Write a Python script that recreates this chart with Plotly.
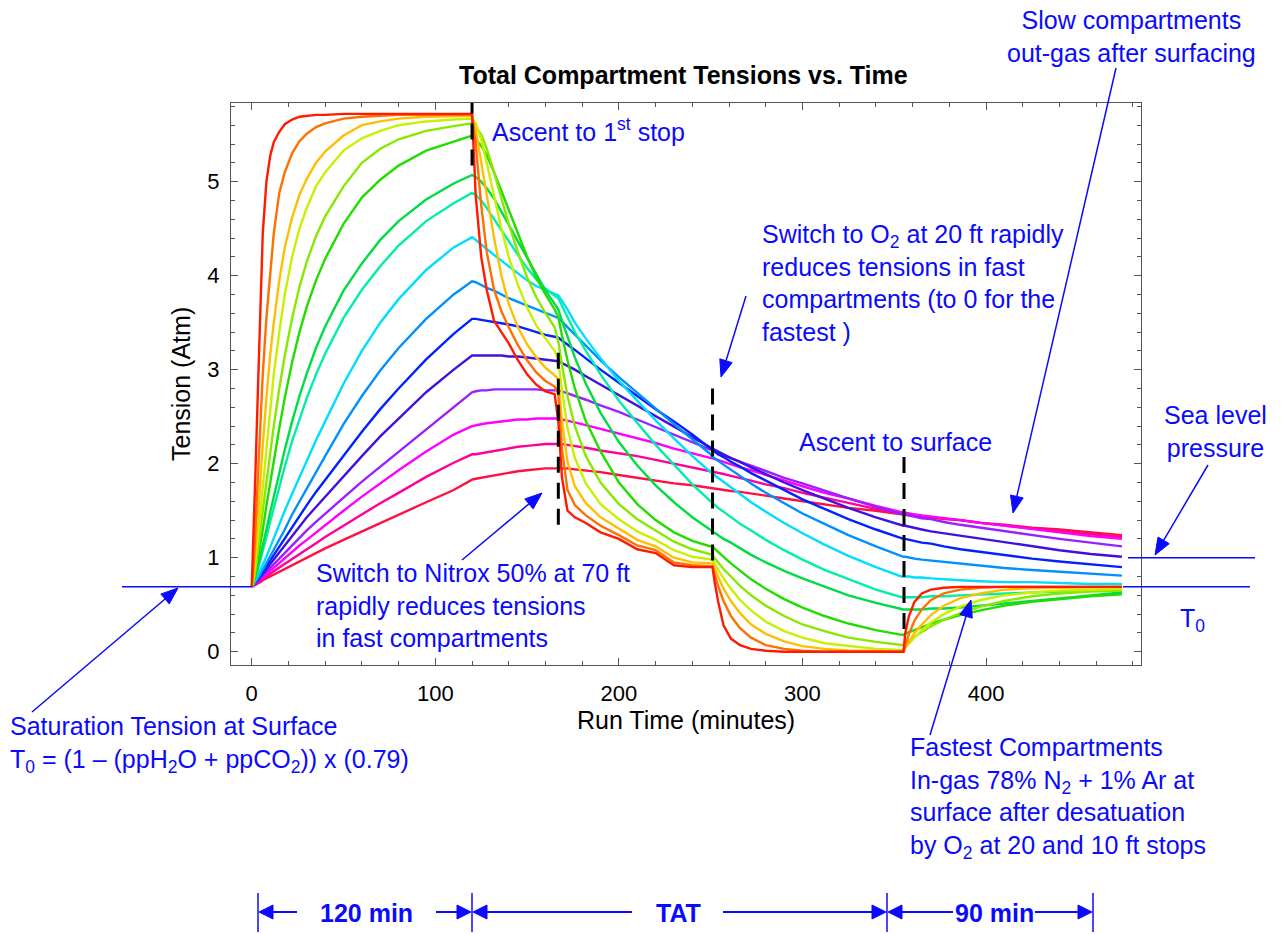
import math
import plotly.graph_objects as go

# ---------------------------------------------------------------- data
# Run time (minutes) shared by all compartments
run_time = [0, 1, 2, 3, 4, 5, 6, 8, 10, 12, 15, 18, 22, 26, 30, 35, 40, 50, 60, 70, 80, 95, 110, 120,
            122, 125, 128, 132, 136, 140, 145, 150, 155, 160, 165,
            167, 169, 172, 176, 182, 190, 200, 210, 220, 230, 240, 250,
            251, 252, 254, 257, 261, 266, 272, 280, 290, 300, 312, 325, 340, 354,
            355, 356, 358, 361, 365, 370, 377, 386, 397, 410, 425, 440, 457, 474]

# Total tension (Atm) of each compartment, fastest first
c01 = [0.69, 1.2, 1.9, 2.55, 3.2, 3.9, 4.45, 5.0, 5.27, 5.42, 5.53, 5.61, 5.66, 5.69, 5.70, 5.71, 5.71, 5.72, 5.72, 5.72, 5.72, 5.72, 5.72, 5.72,
       4.85, 4.2, 3.85, 3.52, 3.40, 3.28, 3.10, 2.95, 2.84, 2.77, 2.74,
       2.45, 1.85, 1.50, 1.43, 1.37, 1.27, 1.20, 1.09, 1.05, 0.92, 0.90, 0.90,
       0.90, 0.76, 0.54, 0.28, 0.14, 0.07, 0.03, 0.01, 0, 0, 0, 0, 0, 0,
       0, 0.2, 0.38, 0.53, 0.62, 0.66, 0.68, 0.69, 0.69, 0.69, 0.69, 0.69, 0.69, 0.69]
c02 = [0.69, 0.9, 1.3, 1.75, 2.2, 2.6, 2.95, 3.55, 4.05, 4.45, 4.88, 5.1, 5.3, 5.43, 5.51, 5.58, 5.62, 5.67, 5.69, 5.70, 5.71, 5.71, 5.71, 5.71,
       5.4, 4.75, 4.25, 3.85, 3.62, 3.45, 3.26, 3.1, 2.97, 2.88, 2.82,
       2.75, 2.15, 1.72, 1.56, 1.45, 1.34, 1.24, 1.13, 1.08, 0.95, 0.92, 0.91,
       0.91, 0.83, 0.70, 0.54, 0.38, 0.25, 0.15, 0.07, 0.03, 0.01, 0, 0, 0, 0,
       0, 0.07, 0.19, 0.33, 0.45, 0.55, 0.62, 0.66, 0.68, 0.69, 0.69, 0.69, 0.69, 0.69]
c03 = [0.69, 0.82, 1.05, 1.35, 1.65, 1.95, 2.2, 2.7, 3.15, 3.5, 3.95, 4.3, 4.62, 4.86, 5.03, 5.2, 5.32, 5.49, 5.6, 5.64, 5.67, 5.69, 5.70, 5.70,
       5.55, 5.2, 4.85, 4.4, 4.0, 3.7, 3.45, 3.27, 3.13, 3.02, 2.94,
       2.9, 2.45, 2.02, 1.76, 1.58, 1.43, 1.31, 1.19, 1.12, 1.0, 0.95, 0.94,
       0.94, 0.89, 0.80, 0.67, 0.54, 0.41, 0.29, 0.19, 0.11, 0.06, 0.03, 0.015, 0.01, 0.0,
       0.0, 0.04, 0.11, 0.20, 0.29, 0.39, 0.49, 0.57, 0.62, 0.66, 0.675, 0.68, 0.685, 0.69]
c04 = [0.69, 0.78, 0.95, 1.15, 1.4, 1.6, 1.8, 2.2, 2.6, 2.95, 3.4, 3.8, 4.2, 4.5, 4.72, 4.95, 5.1, 5.33, 5.46, 5.54, 5.6, 5.64, 5.66, 5.67,
       5.62, 5.45, 5.2, 4.85, 4.5, 4.2, 3.9, 3.66, 3.47, 3.33, 3.2,
       3.1, 2.78, 2.38, 2.06, 1.79, 1.57, 1.41, 1.28, 1.19, 1.08, 1.01, 0.98,
       0.98, 0.94, 0.87, 0.78, 0.67, 0.55, 0.44, 0.32, 0.22, 0.15, 0.09, 0.06, 0.03, 0.02,
       0.02, 0.045, 0.09, 0.15, 0.23, 0.31, 0.40, 0.48, 0.55, 0.60, 0.63, 0.65, 0.66, 0.67]
c05 = [0.69, 0.76, 0.88, 1.02, 1.18, 1.34, 1.5, 1.82, 2.12, 2.4, 2.8, 3.15, 3.55, 3.88, 4.15, 4.42, 4.63, 4.95, 5.2, 5.35, 5.45, 5.54, 5.59, 5.62,
       5.58, 5.5, 5.35, 5.1, 4.82, 4.55, 4.25, 3.98, 3.77, 3.6, 3.45,
       3.3, 3.05, 2.72, 2.4, 2.08, 1.8, 1.57, 1.41, 1.29, 1.17, 1.09, 1.03,
       1.03, 1.0, 0.95, 0.88, 0.80, 0.70, 0.60, 0.49, 0.38, 0.29, 0.22, 0.15, 0.105, 0.073,
       0.07, 0.09, 0.12, 0.16, 0.21, 0.27, 0.34, 0.41, 0.48, 0.54, 0.59, 0.62, 0.64, 0.65]
c06 = [0.69, 0.74, 0.83, 0.94, 1.06, 1.18, 1.3, 1.55, 1.8, 2.03, 2.38, 2.7, 3.08, 3.4, 3.67, 3.95, 4.18, 4.55, 4.83, 5.02, 5.17, 5.33, 5.43, 5.49,
       5.45, 5.38, 5.28, 5.1, 4.9, 4.7, 4.45, 4.2, 3.98, 3.8, 3.64,
       3.56, 3.36, 3.10, 2.80, 2.45, 2.13, 1.80, 1.57, 1.40, 1.27, 1.18, 1.12,
       1.12, 1.10, 1.06, 1.01, 0.94, 0.86, 0.77, 0.67, 0.56, 0.47, 0.38, 0.30, 0.23, 0.18,
       0.18, 0.19, 0.21, 0.23, 0.26, 0.30, 0.34, 0.39, 0.44, 0.49, 0.53, 0.56, 0.59, 0.61]
c07 = [0.69, 0.73, 0.79, 0.87, 0.95, 1.03, 1.12, 1.3, 1.48, 1.65, 1.9, 2.15, 2.45, 2.72, 2.96, 3.23, 3.46, 3.84, 4.13, 4.38, 4.58, 4.81, 4.98, 5.07,
       5.05, 5.0, 4.93, 4.82, 4.68, 4.54, 4.36, 4.18, 4.0, 3.84, 3.7,
       3.64, 3.52, 3.35, 3.13, 2.85, 2.54, 2.23, 1.98, 1.77, 1.59, 1.43, 1.29,
       1.28, 1.27, 1.24, 1.20, 1.16, 1.10, 1.03, 0.95, 0.86, 0.78, 0.69, 0.60, 0.52, 0.45,
       0.45, 0.45, 0.45, 0.45, 0.45, 0.46, 0.46, 0.47, 0.49, 0.51, 0.54, 0.57, 0.60, 0.63]
c08 = [0.69, 0.72, 0.78, 0.85, 0.92, 0.99, 1.07, 1.22, 1.38, 1.53, 1.75, 1.97, 2.24, 2.48, 2.7, 2.95, 3.17, 3.55, 3.85, 4.1, 4.32, 4.58, 4.77, 4.88,
       4.86, 4.8, 4.72, 4.6, 4.48, 4.36, 4.22, 4.08, 3.96, 3.86, 3.79,
       3.76, 3.68, 3.56, 3.4, 3.2, 2.95, 2.67, 2.43, 2.2, 1.99, 1.78, 1.6,
       1.58, 1.56, 1.53, 1.49, 1.43, 1.36, 1.29, 1.19, 1.08, 0.98, 0.87, 0.77, 0.66, 0.58,
       0.58, 0.58, 0.58, 0.58, 0.58, 0.59, 0.59, 0.60, 0.61, 0.62, 0.63, 0.64, 0.65, 0.66]
c09 = [0.69, 0.72, 0.76, 0.80, 0.84, 0.88, 0.92, 1.01, 1.11, 1.21, 1.36, 1.50, 1.68, 1.86, 2.03, 2.25, 2.45, 2.85, 3.2, 3.5, 3.75, 4.06, 4.3, 4.41,
       4.38, 4.33, 4.28, 4.22, 4.16, 4.1, 4.02, 3.95, 3.89, 3.85, 3.81,
       3.79, 3.73, 3.64, 3.5, 3.33, 3.12, 2.88, 2.67, 2.46, 2.27, 2.08, 1.91,
       1.90, 1.88, 1.85, 1.81, 1.75, 1.68, 1.59, 1.49, 1.37, 1.26, 1.14, 1.02, 0.90, 0.80,
       0.80, 0.80, 0.80, 0.79, 0.79, 0.78, 0.77, 0.76, 0.75, 0.74, 0.74, 0.73, 0.72, 0.72]
c10 = [0.69, 0.715, 0.74, 0.77, 0.80, 0.835, 0.87, 0.94, 1.01, 1.08, 1.19, 1.30, 1.46, 1.60, 1.74, 1.91, 2.08, 2.42, 2.72, 2.99, 3.23, 3.54, 3.80, 3.94,
       3.93, 3.9, 3.87, 3.84, 3.8, 3.76, 3.72, 3.68, 3.64, 3.6, 3.56,
       3.55, 3.51, 3.45, 3.37, 3.25, 3.1, 2.92, 2.75, 2.58, 2.42, 2.26, 2.1,
       2.07, 2.06, 2.03, 1.99, 1.93, 1.87, 1.79, 1.69, 1.58, 1.47, 1.36, 1.24, 1.12, 1.01,
       1.01, 1.01, 1.00, 0.99, 0.98, 0.97, 0.96, 0.94, 0.92, 0.89, 0.87, 0.85, 0.83, 0.81]
c11 = [0.69, 0.71, 0.735, 0.76, 0.79, 0.82, 0.85, 0.91, 0.97, 1.03, 1.12, 1.21, 1.33, 1.45, 1.56, 1.70, 1.83, 2.09, 2.34, 2.58, 2.80, 3.11, 3.38, 3.54,
       3.54, 3.53, 3.52, 3.51, 3.5, 3.48, 3.46, 3.43, 3.4, 3.37, 3.35,
       3.34, 3.31, 3.27, 3.21, 3.12, 3.0, 2.86, 2.72, 2.58, 2.45, 2.31, 2.16,
       2.14, 2.13, 2.10, 2.07, 2.02, 1.97, 1.90, 1.82, 1.72, 1.62, 1.52, 1.41, 1.30, 1.20,
       1.20, 1.20, 1.19, 1.18, 1.16, 1.15, 1.12, 1.09, 1.06, 1.03, 0.99, 0.96, 0.93, 0.90]
c12 = [0.69, 0.71, 0.73, 0.755, 0.78, 0.805, 0.83, 0.88, 0.93, 0.98, 1.06, 1.13, 1.23, 1.33, 1.43, 1.54, 1.65, 1.87, 2.08, 2.29, 2.48, 2.76, 3.0, 3.15,
       3.15, 3.15, 3.15, 3.15, 3.15, 3.14, 3.14, 3.13, 3.12, 3.11, 3.1,
       3.09, 3.07, 3.04, 3.0, 2.93, 2.84, 2.73, 2.62, 2.5, 2.39, 2.28, 2.17,
       2.16, 2.15, 2.13, 2.10, 2.06, 2.02, 1.96, 1.89, 1.80, 1.72, 1.63, 1.53, 1.43, 1.34,
       1.34, 1.34, 1.33, 1.32, 1.30, 1.28, 1.26, 1.23, 1.20, 1.16, 1.12, 1.08, 1.04, 1.01]
c13 = [0.69, 0.71, 0.73, 0.75, 0.77, 0.79, 0.81, 0.855, 0.90, 0.94, 1.0, 1.06, 1.14, 1.22, 1.29, 1.38, 1.47, 1.64, 1.81, 1.97, 2.13, 2.37, 2.61, 2.76,
       2.77, 2.78, 2.78, 2.79, 2.79, 2.79, 2.79, 2.79, 2.79, 2.78, 2.78,
       2.78, 2.77, 2.75, 2.72, 2.68, 2.62, 2.55, 2.47, 2.39, 2.31, 2.23, 2.15,
       2.14, 2.13, 2.12, 2.09, 2.06, 2.02, 1.98, 1.92, 1.85, 1.79, 1.71, 1.63, 1.54, 1.46,
       1.46, 1.46, 1.45, 1.44, 1.42, 1.41, 1.38, 1.35, 1.32, 1.28, 1.24, 1.20, 1.16, 1.12]
c14 = [0.69, 0.705, 0.72, 0.74, 0.755, 0.77, 0.79, 0.825, 0.86, 0.895, 0.945, 0.995, 1.06, 1.13, 1.19, 1.27, 1.35, 1.50, 1.65, 1.79, 1.93, 2.13, 2.31, 2.40,
       2.41, 2.42, 2.43, 2.44, 2.45, 2.46, 2.47, 2.47, 2.48, 2.48, 2.48,
       2.48, 2.47, 2.46, 2.44, 2.41, 2.37, 2.32, 2.27, 2.22, 2.16, 2.11, 2.06,
       2.06, 2.05, 2.04, 2.02, 1.99, 1.96, 1.93, 1.88, 1.82, 1.76, 1.69, 1.63, 1.55, 1.48,
       1.48, 1.48, 1.47, 1.46, 1.45, 1.44, 1.42, 1.40, 1.37, 1.34, 1.30, 1.27, 1.23, 1.20]
c15 = [0.69, 0.70, 0.715, 0.73, 0.745, 0.76, 0.775, 0.80, 0.83, 0.855, 0.895, 0.935, 0.99, 1.04, 1.09, 1.155, 1.22, 1.34, 1.46, 1.58, 1.69, 1.86, 2.01, 2.10,
       2.1, 2.11, 2.12, 2.14, 2.15, 2.16, 2.18, 2.19, 2.2, 2.21, 2.21,
       2.21, 2.21, 2.2, 2.19, 2.17, 2.14, 2.11, 2.08, 2.04, 2.0, 1.96, 1.92,
       1.92, 1.91, 1.90, 1.89, 1.87, 1.85, 1.82, 1.78, 1.74, 1.69, 1.64, 1.59, 1.52, 1.47,
       1.47, 1.47, 1.46, 1.46, 1.44, 1.43, 1.42, 1.40, 1.37, 1.34, 1.31, 1.28, 1.25, 1.22]
c16 = [0.69, 0.70, 0.71, 0.72, 0.73, 0.745, 0.76, 0.78, 0.80, 0.82, 0.85, 0.88, 0.92, 0.96, 1.0, 1.05, 1.10, 1.19, 1.28, 1.37, 1.46, 1.59, 1.72, 1.83,
       1.84, 1.85, 1.86, 1.88, 1.89, 1.9, 1.92, 1.93, 1.94, 1.95, 1.95,
       1.95, 1.95, 1.95, 1.94, 1.93, 1.91, 1.88, 1.85, 1.82, 1.79, 1.77, 1.74,
       1.74, 1.74, 1.73, 1.72, 1.71, 1.70, 1.68, 1.66, 1.63, 1.60, 1.57, 1.53, 1.50, 1.46,
       1.46, 1.46, 1.45, 1.45, 1.44, 1.43, 1.41, 1.40, 1.37, 1.35, 1.32, 1.30, 1.27, 1.24]

compartments = [c01, c02, c03, c04, c05, c06, c07, c08, c09, c10, c11, c12, c13, c14, c15, c16]
assert all(len(c) == len(run_time) for c in compartments)

T0 = 0.69          # saturation tension at surface
SEA_LEVEL = 1.0    # sea level pressure

x_ticks = [0, 100, 200, 300, 400]
y_ticks = [0, 1, 2, 3, 4, 5]

# ---------------------------------------------------------------- style
colors = ['#ff1a00', '#ff7000', '#ffbf00', '#c8f000', '#88e800', '#22dd00', '#00dd44', '#00eeaa',
          '#00ddff', '#0090ff', '#0022ff', '#4010e0', '#9920ff', '#ff00ff', '#ff0099', '#ff1040']
BLUE = '#0a0aff'
FONT = 'Arial, Liberation Sans, sans-serif'

W, H = 1281, 934
ML, MR, MT, MB = 231, 140, 103, 269
PW, PH = W - ML - MR, H - MT - MB


def px(x):
    return (x - ML) / PW


def py(y):
    return (H - MB - y) / PH


fig = go.Figure()
for vals, col in reversed(list(zip(compartments, colors))):
    fig.add_trace(go.Scatter(x=run_time, y=vals, mode='lines',
                             line=dict(color=col, width=2.4), hoverinfo='skip', showlegend=False))

shapes = []
# black dashed event markers: (time, from, to)
for t, ya, yb in [(120, 5.17, 5.84), (167, 3.18, 1.27), (251, 2.80, 0.92), (355.3, 2.07, 0.16)]:
    shapes.append(dict(type='line', xref='x', yref='y', x0=t, x1=t, y0=ya, y1=yb,
                       line=dict(color='black', width=3, dash='16px,10px')))
# reference levels
shapes.append(dict(type='line', xref='paper', yref='y', x0=px(122), x1=px(252), y0=T0, y1=T0,
                   line=dict(color=BLUE, width=1.5)))
shapes.append(dict(type='line', xref='paper', yref='y', x0=px(1123), x1=px(1250), y0=T0, y1=T0,
                   line=dict(color=BLUE, width=1.5)))
shapes.append(dict(type='line', xref='paper', yref='y', x0=px(1128), x1=px(1255), y0=SEA_LEVEL, y1=SEA_LEVEL,
                   line=dict(color=BLUE, width=1.5)))
# time-line bars at the bottom
for bx in [258, 472, 887, 1093]:
    shapes.append(dict(type='line', xref='paper', yref='paper', x0=px(bx), x1=px(bx), y0=py(893), y1=py(932),
                       line=dict(color=BLUE, width=1.5)))


def arrow(head, tail, width=1.5, head_len=17, head_w=13):
    """Blue arrow (line + filled triangular head), given in page pixels."""
    hx, hy = head
    tx, ty = tail
    dx, dy = hx - tx, hy - ty
    n = math.hypot(dx, dy)
    ux, uy = dx / n, dy / n
    bx, by = hx - ux * head_len, hy - uy * head_len
    nx, ny = -uy, ux
    p1 = (bx + nx * head_w / 2, by + ny * head_w / 2)
    p2 = (bx - nx * head_w / 2, by - ny * head_w / 2)
    line = dict(type='line', xref='paper', yref='paper', x0=px(tx), y0=py(ty), x1=px(bx), y1=py(by),
                line=dict(color=BLUE, width=width))
    path = 'M{},{} L{},{} L{},{} Z'.format(px(hx), py(hy), px(p1[0]), py(p1[1]), px(p2[0]), py(p2[1]))
    head_shape = dict(type='path', xref='paper', yref='paper', path=path,
                      fillcolor=BLUE, line=dict(color=BLUE, width=1))
    return [line, head_shape]


for h, t in [((542, 493), (462, 560)), ((721, 377), (746, 296)), ((1013, 513), (1116, 68)),
             ((1155, 555), (1208, 465)), ((971, 600), (930, 735)), ((178, 588), (32, 712))]:
    shapes += arrow(h, t)
for h, t in [((259, 912), (297, 912)), ((471, 912), (436, 912)), ((473, 912), (632, 912)),
             ((886, 912), (723, 912)), ((888, 912), (953, 912)), ((1092, 912), (1035, 912))]:
    shapes += arrow(h, t, width=2, head_len=14, head_w=14)


def label(x, y, text, anchor='left', size=25, bold=False, align='left', color=BLUE):
    if bold:
        text = '<b>' + text + '</b>'
    return dict(x=px(x), y=py(y), xref='paper', yref='paper', text=text, showarrow=False,
                xanchor=anchor, yanchor='middle', align=align,
                font=dict(size=size, color=color, family=FONT))


annotations = [
    label(683, 75, 'Total Compartment Tensions vs. Time', anchor='center', size=25, bold=True, color='black'),
    label(686, 720, 'Run Time (minutes)', anchor='center', size=25, color='black'),
    dict(label(181, 384, 'Tension (Atm)', anchor='center', size=25, color='black'), textangle=-90),
    label(490, 130, 'Ascent to 1<sup>st</sup> stop'),
    label(760, 283, 'Switch to O<sub>2</sub> at 20 ft rapidly<br>reduces tensions in fast<br>'
                    'compartments (to 0 for the<br>fastest )'),
    label(797, 442, 'Ascent to surface'),
    label(1131, 36, 'Slow compartments<br>out-gas after surfacing', anchor='center', align='center'),
    label(1215, 431, 'Sea level<br>pressure', anchor='center', align='center'),
    label(1178, 620, 'T<sub>0</sub>'),
    label(314, 605, 'Switch to Nitrox 50% at 70 ft<br>rapidly reduces tensions<br>in fast compartments'),
    label(8, 744, 'Saturation Tension at Surface<br>T<sub>0</sub> = (1 \u2013 (ppH<sub>2</sub>O + ppCO<sub>2</sub>)) x (0.79)'),
    label(908, 798, 'Fastest Compartments<br>In-gas 78% N<sub>2</sub> + 1% Ar at<br>surface after desatuation<br>'
                    'by O<sub>2</sub> at 20 and 10 ft stops'),
    label(366, 913, '120 min', anchor='center', size=25, bold=True),
    label(678, 913, 'TAT', anchor='center', size=25, bold=True),
    label(994, 913, '90 min', anchor='center', size=25, bold=True),
]

axis_common = dict(showgrid=False, zeroline=False, showline=True, linecolor='#555', linewidth=1.3,
                   mirror='ticks', ticks='inside', ticklen=7, tickwidth=1.2, tickcolor='#555',
                   tickfont=dict(size=22, color='black', family=FONT))

fig.update_layout(
    width=W, height=H, margin=dict(l=ML, r=MR, t=MT, b=MB),
    paper_bgcolor='white', plot_bgcolor='white', showlegend=False,
    xaxis=dict(axis_common, range=[-11.3, 484.4], tickmode='array', tickvals=x_ticks,
               ticklabelstandoff=8,
               minor=dict(dtick=20, tick0=0, ticks='inside', ticklen=4, tickcolor='#555', showgrid=False)),
    yaxis=dict(axis_common, range=[-0.141, 5.836], tickmode='array', tickvals=y_ticks,
               ticklabelstandoff=6,
               minor=dict(dtick=0.2, tick0=0, ticks='inside', ticklen=4, tickcolor='#555', showgrid=False)),
    shapes=shapes, annotations=annotations,
)

fig.write_html('out.html')
